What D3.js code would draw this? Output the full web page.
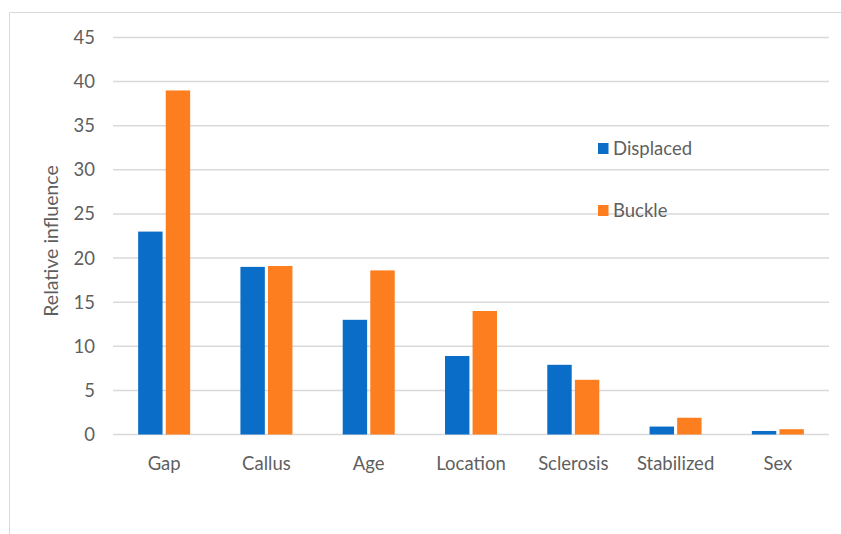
<!DOCTYPE html>
<html>
<head>
<meta charset="utf-8">
<script src="https://cdn.jsdelivr.net/npm/d3@7"></script>
<style>
  html, body { margin: 0; padding: 0; background: #fff; }
  svg { display: block; font-family: Lato, "Open Sans", sans-serif; }
</style>
</head>
<body>
<svg id="chart" width="841" height="534"></svg>
<script>
// Relative influence of each predictor, by fracture type
const categories = ["Gap", "Callus", "Age", "Location", "Sclerosis", "Stabilized", "Sex"];
const displaced = [23, 19, 13, 8.9, 7.9, 0.9, 0.4];
const buckle = [39, 19.1, 18.6, 14, 6.2, 1.9, 0.6];
const seriesNames = ["Displaced", "Buckle"];
const seriesColors = ["#0a6dc8", "#fd7e1e"];
const yTicks = [0, 5, 10, 15, 20, 25, 30, 35, 40, 45];

const fontSize = 18.5;
const textColor = "#5f5f5f";

const svg = d3.select("#chart");

// outer chart frame
svg.append("path")
  .attr("d", "M9.5,534 V12.5 H841")
  .attr("fill", "none")
  .attr("stroke", "#d9d9d9")
  .attr("stroke-width", 1);

const plotLeft = 113, plotRight = 829, plotTop = 37.5, plotBottom = 434.5;

const x = d3.scaleBand().domain(categories).range([plotLeft, plotRight]).paddingInner(0).paddingOuter(0);
const y = d3.scaleLinear().domain([0, 45]).range([plotBottom, plotTop]);
const xs = d3.scaleBand().domain(seriesNames).range([0, 52]).paddingInner(0.115);

// gridlines
svg.append("g")
  .selectAll("line")
  .data(yTicks)
  .join("line")
  .attr("x1", plotLeft).attr("x2", plotRight)
  .attr("y1", d => y(d)).attr("y2", d => y(d))
  .attr("stroke", "#d9d9d9")
  .attr("stroke-width", 1.5);

// y tick labels
svg.append("g")
  .selectAll("text")
  .data(yTicks)
  .join("text")
  .attr("x", 95)
  .attr("y", d => y(d))
  .attr("dy", "0.35em")
  .attr("text-anchor", "end")
  .attr("font-size", fontSize)
  .attr("fill", textColor)
  .text(d => d);

// bars
const series = [displaced, buckle];
const groups = svg.append("g")
  .selectAll("g")
  .data(categories.map((c, i) => ({ c, vals: series.map((s, j) => ({ name: seriesNames[j], v: s[i], color: seriesColors[j] })) })))
  .join("g")
  .attr("transform", d => `translate(${x(d.c) + x.bandwidth() / 2 - 26},0)`);

groups.selectAll("rect")
  .data(d => d.vals)
  .join("rect")
  .attr("x", d => xs(d.name))
  .attr("width", xs.bandwidth())
  .attr("y", d => y(d.v))
  .attr("height", d => y(0) - y(d.v))
  .attr("fill", d => d.color);

// category labels
svg.append("g")
  .selectAll("text")
  .data(categories)
  .join("text")
  .attr("x", d => x(d) + x.bandwidth() / 2)
  .attr("y", 470)
  .attr("text-anchor", "middle")
  .attr("font-size", fontSize)
  .attr("fill", textColor)
  .text(d => d);

// y axis title
svg.append("text")
  .attr("transform", "translate(58,241) rotate(-90)")
  .attr("text-anchor", "middle")
  .attr("font-size", 19.5)
  .attr("fill", textColor)
  .text("Relative influence");

// legend
const legendY = [148.5, 210.5];
const legend = svg.append("g")
  .selectAll("g")
  .data(seriesNames)
  .join("g")
  .attr("transform", (d, i) => `translate(598,${legendY[i]})`);
legend.append("rect")
  .attr("x", 0).attr("y", -5.5)
  .attr("width", 10.5).attr("height", 11)
  .attr("fill", (d, i) => seriesColors[i]);
legend.append("text")
  .attr("x", 15).attr("y", 0)
  .attr("dy", "0.35em")
  .attr("font-size", fontSize)
  .attr("fill", textColor)
  .text(d => d);
</script>
</body>
</html>
